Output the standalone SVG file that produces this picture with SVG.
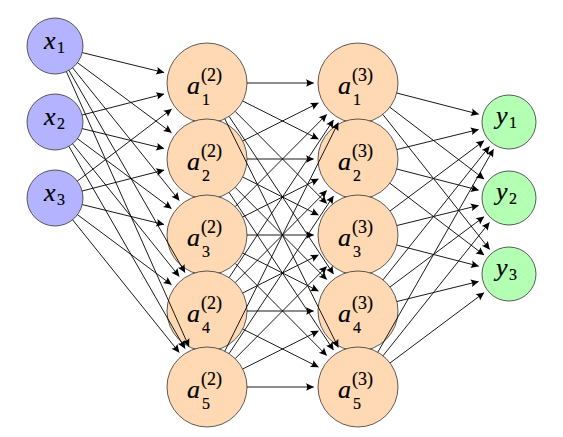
<svg xmlns="http://www.w3.org/2000/svg" width="563" height="437" viewBox="0 0 563 437">
<style>
.in{fill:#b3b3ff;stroke:#333;stroke-width:0.8}
.hid{fill:#ffd9b3;stroke:#333;stroke-width:0.8}
.out{fill:#b3ffb3;stroke:#333;stroke-width:0.8}
text{font-family:"Liberation Serif","DejaVu Serif",serif;fill:#000;stroke:#000;stroke-width:0.2}
.v{font-style:italic;font-size:26px}
.s{font-size:16px}
.p{font-size:18px}
#edges line{stroke:#000;stroke-width:0.9;marker-end:url(#ah)}
</style>
<defs>
<marker id="ah" markerUnits="userSpaceOnUse" viewBox="-9 -5 10 10" markerWidth="10" markerHeight="10" refX="0" refY="0" orient="auto">
<path d="M0.5,0 L-7.5,-3.8 Q-5.2,0 -7.5,3.8 Z" fill="#000"/>
</marker>
</defs>
<rect width="563" height="437" fill="#fff"/>
<g id="x1"><circle class="in" cx="55" cy="46" r="28"/><text x="44" y="49"><tspan class="v">x</tspan><tspan class="s" x="57" y="53">1</tspan></text></g>
<g id="x2"><circle class="in" cx="55" cy="122" r="28"/><text x="44" y="125"><tspan class="v">x</tspan><tspan class="s" x="57" y="129">2</tspan></text></g>
<g id="x3"><circle class="in" cx="55" cy="198" r="28"/><text x="44" y="201"><tspan class="v">x</tspan><tspan class="s" x="57" y="205">3</tspan></text></g>
<g id="a2_1"><circle class="hid" cx="207" cy="83" r="40"/><text x="187" y="94"><tspan class="v">a</tspan><tspan class="p" x="201" y="81">(2)</tspan><tspan class="s" x="202" y="105">1</tspan></text></g>
<g id="a2_2"><circle class="hid" cx="207" cy="159" r="40"/><text x="187" y="170"><tspan class="v">a</tspan><tspan class="p" x="201" y="157">(2)</tspan><tspan class="s" x="202" y="181">2</tspan></text></g>
<g id="a2_3"><circle class="hid" cx="207" cy="235" r="40"/><text x="187" y="246"><tspan class="v">a</tspan><tspan class="p" x="201" y="233">(2)</tspan><tspan class="s" x="202" y="257">3</tspan></text></g>
<g id="a2_4"><circle class="hid" cx="207" cy="311" r="40"/><text x="187" y="322"><tspan class="v">a</tspan><tspan class="p" x="201" y="309">(2)</tspan><tspan class="s" x="202" y="333">4</tspan></text></g>
<g id="a2_5"><circle class="hid" cx="207" cy="387" r="40"/><text x="187" y="398"><tspan class="v">a</tspan><tspan class="p" x="201" y="385">(2)</tspan><tspan class="s" x="202" y="409">5</tspan></text></g>
<g id="a3_1"><circle class="hid" cx="358" cy="83" r="40"/><text x="338" y="94"><tspan class="v">a</tspan><tspan class="p" x="352" y="81">(3)</tspan><tspan class="s" x="353" y="105">1</tspan></text></g>
<g id="a3_2"><circle class="hid" cx="358" cy="159" r="40"/><text x="338" y="170"><tspan class="v">a</tspan><tspan class="p" x="352" y="157">(3)</tspan><tspan class="s" x="353" y="181">2</tspan></text></g>
<g id="a3_3"><circle class="hid" cx="358" cy="235" r="40"/><text x="338" y="246"><tspan class="v">a</tspan><tspan class="p" x="352" y="233">(3)</tspan><tspan class="s" x="353" y="257">3</tspan></text></g>
<g id="a3_4"><circle class="hid" cx="358" cy="311" r="40"/><text x="338" y="322"><tspan class="v">a</tspan><tspan class="p" x="352" y="309">(3)</tspan><tspan class="s" x="353" y="333">4</tspan></text></g>
<g id="a3_5"><circle class="hid" cx="358" cy="387" r="40"/><text x="338" y="398"><tspan class="v">a</tspan><tspan class="p" x="352" y="385">(3)</tspan><tspan class="s" x="353" y="409">5</tspan></text></g>
<g id="y1"><circle class="out" cx="509" cy="122" r="27"/><text x="496" y="124"><tspan class="v">y</tspan><tspan class="s" x="509" y="128">1</tspan></text></g>
<g id="y2"><circle class="out" cx="509" cy="198" r="27"/><text x="496" y="200"><tspan class="v">y</tspan><tspan class="s" x="509" y="204">2</tspan></text></g>
<g id="y3"><circle class="out" cx="509" cy="274" r="27"/><text x="496" y="276"><tspan class="v">y</tspan><tspan class="s" x="509" y="280">3</tspan></text></g>
<g id="edges">
<line x1="82.2" y1="52.6" x2="163.8" y2="72.5"/>
<line x1="77.5" y1="62.7" x2="171.3" y2="132.5"/>
<line x1="72.6" y1="67.8" x2="179.1" y2="200.3"/>
<line x1="68.9" y1="70.3" x2="184.9" y2="272.4"/>
<line x1="66.4" y1="71.6" x2="188.9" y2="346.4"/>
<line x1="82.1" y1="115.0" x2="163.9" y2="94.0"/>
<line x1="82.2" y1="128.6" x2="163.8" y2="148.5"/>
<line x1="77.5" y1="138.7" x2="171.3" y2="208.5"/>
<line x1="72.6" y1="143.8" x2="179.1" y2="276.3"/>
<line x1="68.9" y1="146.3" x2="184.9" y2="348.4"/>
<line x1="77.3" y1="181.1" x2="171.5" y2="109.2"/>
<line x1="82.1" y1="191.0" x2="163.9" y2="170.1"/>
<line x1="82.2" y1="204.6" x2="163.8" y2="224.5"/>
<line x1="77.5" y1="214.7" x2="171.3" y2="284.5"/>
<line x1="72.6" y1="219.8" x2="179.1" y2="352.3"/>
<line x1="247" y1="83" x2="313.5" y2="83"/>
<line x1="242.7" y1="101.0" x2="318.3" y2="139.0"/>
<line x1="235.2" y1="111.4" x2="326.6" y2="203.4"/>
<line x1="229.1" y1="116.4" x2="333.4" y2="273.9"/>
<line x1="224.8" y1="118.8" x2="338.2" y2="347.2"/>
<line x1="242.7" y1="141.0" x2="318.3" y2="103.0"/>
<line x1="247" y1="159" x2="313.5" y2="159"/>
<line x1="242.7" y1="177.0" x2="318.3" y2="215.0"/>
<line x1="235.2" y1="187.4" x2="326.6" y2="279.4"/>
<line x1="229.1" y1="192.4" x2="333.4" y2="349.9"/>
<line x1="235.2" y1="206.6" x2="326.6" y2="114.6"/>
<line x1="242.7" y1="217.0" x2="318.3" y2="179.0"/>
<line x1="247" y1="235" x2="313.5" y2="235"/>
<line x1="242.7" y1="253.0" x2="318.3" y2="291.0"/>
<line x1="235.2" y1="263.4" x2="326.6" y2="355.4"/>
<line x1="229.1" y1="277.6" x2="333.4" y2="120.1"/>
<line x1="235.2" y1="282.6" x2="326.6" y2="190.6"/>
<line x1="242.7" y1="293.0" x2="318.3" y2="255.0"/>
<line x1="247" y1="311" x2="313.5" y2="311"/>
<line x1="242.7" y1="329.0" x2="318.3" y2="367.0"/>
<line x1="224.8" y1="351.2" x2="338.2" y2="122.8"/>
<line x1="229.1" y1="353.6" x2="333.4" y2="196.1"/>
<line x1="235.2" y1="358.6" x2="326.6" y2="266.6"/>
<line x1="242.7" y1="369.0" x2="318.3" y2="331.0"/>
<line x1="247" y1="387" x2="313.5" y2="387"/>
<line x1="396.7" y1="93.0" x2="478.5" y2="114.1"/>
<line x1="389.8" y1="107.2" x2="483.9" y2="178.9"/>
<line x1="382.8" y1="114.4" x2="489.5" y2="249.3"/>
<line x1="396.9" y1="149.5" x2="478.4" y2="129.5"/>
<line x1="396.7" y1="169.0" x2="478.5" y2="190.1"/>
<line x1="389.8" y1="183.2" x2="483.9" y2="254.9"/>
<line x1="390.0" y1="211.0" x2="483.8" y2="140.9"/>
<line x1="396.9" y1="225.5" x2="478.4" y2="205.5"/>
<line x1="396.7" y1="245.0" x2="478.5" y2="266.1"/>
<line x1="383.0" y1="279.8" x2="489.3" y2="146.6"/>
<line x1="390.0" y1="287.0" x2="483.8" y2="216.9"/>
<line x1="396.9" y1="301.5" x2="478.4" y2="281.5"/>
<line x1="377.8" y1="352.2" x2="493.4" y2="149.4"/>
<line x1="383.0" y1="355.8" x2="489.3" y2="222.6"/>
<line x1="390.0" y1="363.0" x2="483.8" y2="292.9"/>
</g>
</svg>
